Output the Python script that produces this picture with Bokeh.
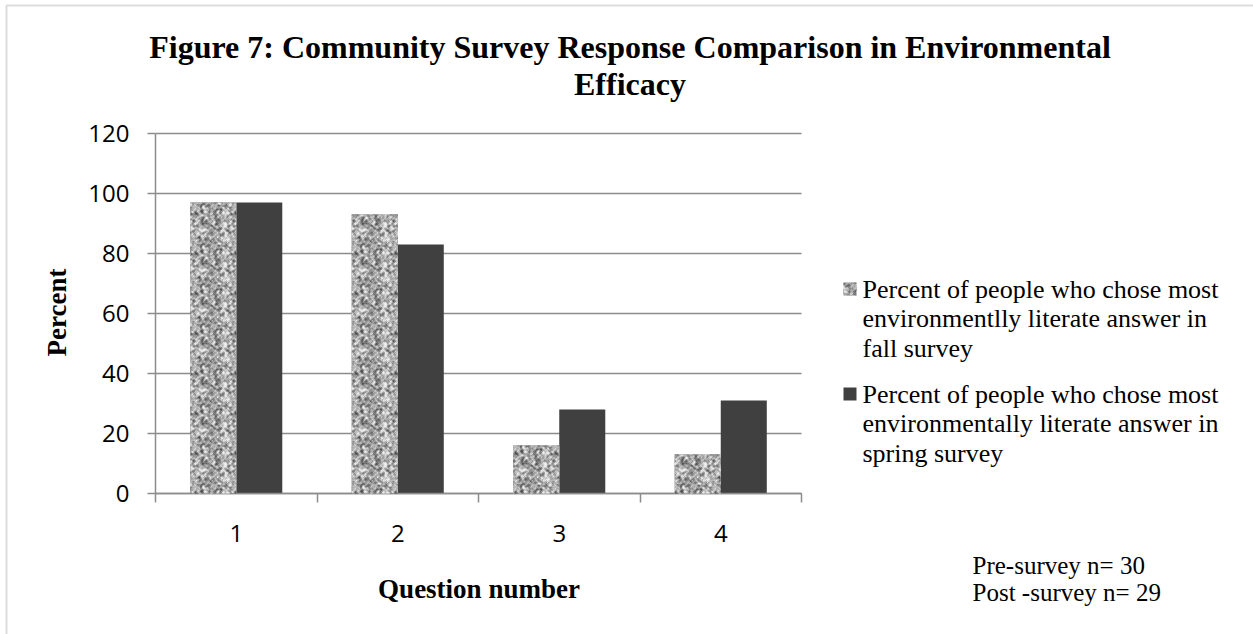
import base64
import struct
import zlib

import numpy as np
from bokeh.plotting import figure
from bokeh.models import (Range1d, FixedTicker, Label, BoxAnnotation, ColumnDataSource,
                          ImageURLTexture)
from bokeh.transform import dodge
from bokeh.embed import file_html
from bokeh.resources import INLINE

# Survey results (percent choosing the most environmentally literate answer)
questions = [1, 2, 3, 4]
fall_pct = [97, 93, 16, 13]
spring_pct = [97, 83, 28, 31]
y_ticks = [0, 20, 40, 60, 80, 100, 120]

title_lines = ["Figure 7: Community Survey Response Comparison in Environmental", "Efficacy"]
fall_label = ["Percent of people who chose most", "environmentlly literate answer in", "fall survey"]
spring_label = ["Percent of people who chose most", "environmentally literate answer in", "spring survey"]
note_lines = ["Pre-survey  n= 30", "Post -survey n= 29"]

W, H = 1253, 634
# plot area inside the canvas (pixels)
PL, PR, PT, PB = 155, 801, 133, 493
X0, X1, Y0, Y1 = 0.5, 4.5, 0, 120

SERIF = "Liberation Serif"
SANS = "Open Sans"
GRID = "#8c8c8c"
DARK = "#404040"
BASE = "#a9a9a9"
BASELINE_FIX = 8.5  # label baseline correction, px


def granite_texture(n=40):
    """Tileable grey 'granite' fill as a PNG data URL."""
    yy, xx = np.mgrid[0:n, 0:n]
    v = np.modf(np.abs(np.sin(xx * 12.9898 + yy * 78.233) * 43758.5453))[0]
    s = sum(np.roll(np.roll(v, dy, 0), dx, 1) for dy in (-1, 0, 1) for dx in (-1, 0, 1)) / 9.0
    zs = (s - s.mean()) / s.std()
    zv = (v - v.mean()) / v.std()
    z = 0.8 * zs + 0.35 * zv
    g = np.clip(168 + 36 * z, 70, 235).astype(np.uint8)
    raw = b"".join(b"\x00" + row.tobytes() for row in g)

    def chunk(tag, data):
        body = tag + data
        return struct.pack(">I", len(data)) + body + struct.pack(">I", zlib.crc32(body) & 0xFFFFFFFF)

    png = (b"\x89PNG\r\n\x1a\n"
           + chunk(b"IHDR", struct.pack(">IIBBBBB", n, n, 8, 0, 0, 0, 0))
           + chunk(b"IDAT", zlib.compress(raw))
           + chunk(b"IEND", b""))
    return "data:image/png;base64," + base64.b64encode(png).decode()


GRANITE = {"granite": ImageURLTexture(url=granite_texture(), repetition="repeat")}

# data ranges stretched so the frame fills the whole canvas
kx = (X1 - X0) / (PR - PL)
ky = (Y1 - Y0) / (PB - PT)
x_range = Range1d(X0 - PL * kx, X1 + (W - PR) * kx)
y_range = Range1d(Y0 - (H - PB) * ky, Y1 + PT * ky)

src = ColumnDataSource(dict(q=questions, fall=fall_pct, spring=spring_pct))

p = figure(width=W, height=H, output_backend="svg", toolbar_location=None,
           x_range=x_range, y_range=y_range, title=None, min_border=0)
p.outline_line_color = None
p.background_fill_color = "white"
p.border_fill_color = "white"
p.xgrid.visible = False
p.ygrid.visible = False

# horizontal gridlines across the plot area
p.segment(x0=X0, x1=X1, y0=y_ticks, y1=y_ticks, line_color=GRID, line_width=1.5)

bw = 0.285
p.vbar(x=dodge("q", -bw / 2), top="fall", width=bw, source=src,
       fill_color=BASE, line_color=None)
p.vbar(x=dodge("q", bw / 2), top="spring", width=bw, source=src,
       fill_color=DARK, line_color=None)

# granite texture laid over each fall bar (data units)
for q, v in zip(questions, fall_pct):
    p.add_layout(BoxAnnotation(left=q - bw, right=q, bottom=0, top=v,
                               fill_color=BASE, fill_alpha=1, line_color=None,
                               hatch_pattern="granite", hatch_extra=GRANITE))

# axes pinned to the plot area
p.xaxis.fixed_location = Y0
p.xaxis.bounds = (X0, X1)
p.yaxis.fixed_location = X0
p.yaxis.bounds = (Y0, Y1)
p.yaxis.ticker = FixedTicker(ticks=y_ticks)
p.xaxis.ticker = FixedTicker(ticks=questions, minor_ticks=[0.5, 1.5, 2.5, 3.5, 4.5])

for ax in (p.xaxis[0], p.yaxis[0]):
    ax.axis_line_color = GRID
    ax.axis_line_width = 1.5
    ax.major_tick_line_color = GRID
    ax.major_tick_line_width = 1.5
    ax.minor_tick_line_color = GRID
    ax.minor_tick_line_width = 1.5
    ax.major_label_text_font = SANS
    ax.major_label_text_font_size = "24px"
    ax.major_label_text_color = "black"

p.yaxis.major_tick_out = 8
p.yaxis.major_tick_in = 0
p.yaxis.minor_tick_out = 0
p.yaxis.minor_tick_in = 0
p.yaxis.major_label_standoff = 18

p.xaxis.major_tick_out = 0
p.xaxis.major_tick_in = 0
p.xaxis.minor_tick_out = 9
p.xaxis.minor_tick_in = 0
p.xaxis.major_label_standoff = 22


def text(cx, cy, t, size, bold=False, align="left", rotated=False):
    if rotated:
        x, y, angle = cx - BASELINE_FIX, H - cy, np.pi / 2
    else:
        x, y, angle = cx, H - (cy - BASELINE_FIX), 0.0
    p.add_layout(Label(x=x, y=y, x_units="screen", y_units="screen",
                       text=t, angle=angle, text_font=SERIF,
                       text_font_style="bold" if bold else "normal",
                       text_font_size=size, text_align=align,
                       text_baseline="alphabetic", text_color="black"))


# title
for i, t in enumerate(title_lines):
    text(629.5, 55 + 37 * i, t, "32px", bold=True, align="center")

# axis titles
text(65, 312, "Percent", "27px", bold=True, align="center", rotated=True)
text(478.5, 597, "Question number", "27px", bold=True, align="center")

# legend
for lines, base, swatch in ((fall_label, 297, "fall"), (spring_label, 402, "spring")):
    for i, t in enumerate(lines):
        text(862, base + 29.5 * i, t, "26px")
    box = dict(left=843, right=856, top=H - (base - 15), bottom=H - (base - 2),
               left_units="screen", right_units="screen",
               top_units="screen", bottom_units="screen", line_color=None)
    if swatch == "fall":
        p.add_layout(BoxAnnotation(fill_color="#bdbdbd", fill_alpha=1,
                                   hatch_pattern="granite", hatch_extra=GRANITE, **box))
    else:
        p.add_layout(BoxAnnotation(fill_color=DARK, fill_alpha=1, **box))

# sample sizes
for i, t in enumerate(note_lines):
    text(972, 573 + 27 * i, t, "25px")

# chart border
p.add_layout(BoxAnnotation(left=6, right=W + 40, top=H - 5, bottom=-40,
                           left_units="screen", right_units="screen",
                           top_units="screen", bottom_units="screen",
                           fill_alpha=0, line_color="#8c8c8c", line_width=2))

open("out.html", "w").write(file_html(p, INLINE))
